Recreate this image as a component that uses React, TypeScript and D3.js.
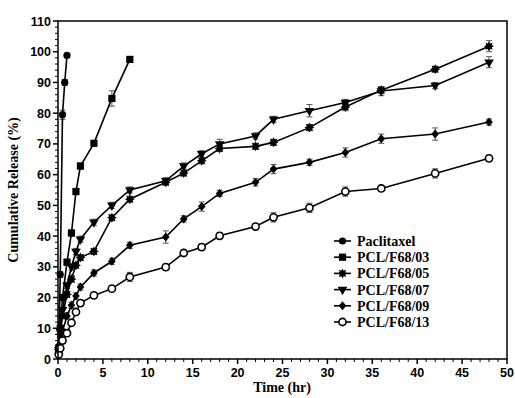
import React from "react";
import * as d3 from "d3";

const xTicks = [0, 5, 10, 15, 20, 25, 30, 35, 40, 45, 50];
const yTicks = [0, 10, 20, 30, 40, 50, 60, 70, 80, 90, 100, 110];

const timeLong = [0.083, 0.25, 0.5, 1, 1.5, 2, 2.5, 4, 6, 8, 12, 14, 16, 18, 22, 24, 28, 32, 36, 42, 48];
const timePac = [0.083, 0.25, 0.5, 0.75, 1];
const timeF03 = [0.083, 0.25, 0.5, 1, 1.5, 2, 2.5, 4, 6, 8];

const pacValues = [4, 27.5, 79.5, 90, 98.8];
const pacErr = [0.5, 1, 1.5, 1, 0.5];
const f03Values = [3.5, 10, 20, 31.5, 41, 54.5, 62.8, 70.2, 84.8, 97.5];
const f03Err = [0.5, 0.8, 1, 1, 1, 1, 1, 0.8, 2.5, 0.5];
const f05Values = [3, 8, 14, 21, 26, 30.5, 33, 35, 46, 52, 57.5, 60.5, 64.5, 68.5, 69.2, 70.5, 75.3, 82, 87.5, 94.3, 101.8];
const f05Err = [0.5, 0.5, 0.8, 1, 1, 1, 1, 1, 1, 1, 1, 1, 1, 1, 1, 1, 1, 1.2, 1, 1, 1.8];
const f07Values = [3, 9, 16, 24, 30, 35, 39, 44.5, 50, 55, 58, 62.8, 66.8, 70, 72.6, 78, 80.8, 83.5, 87.2, 89, 96.6];
const f07Err = [0.5, 0.5, 0.8, 1, 1, 1, 1, 1, 1, 1, 1, 1, 1, 1.5, 1, 1, 2, 1, 1.5, 1, 1.8];
const f09Values = [2, 5, 9, 14, 17.5, 20.5, 23.4, 28, 31.8, 37, 39.7, 45.6, 49.6, 53.9, 57.5, 61.8, 64, 67.2, 71.7, 73.2, 77.1];
const f09Err = [0.5, 0.5, 0.8, 1, 1, 1, 1, 1, 1, 1, 2, 1, 1.5, 1, 1.2, 1.5, 1, 1.5, 1.5, 2, 1];
const f13Values = [1.5, 3.5, 6, 8.4, 11.8, 15.3, 18.2, 20.7, 22.9, 26.7, 29.9, 34.5, 36.4, 40.1, 43.1, 46.1, 49.2, 54.5, 55.5, 60.4, 65.3];
const f13Err = [0.5, 0.5, 0.8, 1, 1, 1, 1, 1, 1, 1.5, 1, 1, 1, 1, 1, 1.5, 1.5, 1.5, 1, 1.5, 1];

const seriesNames = ["Paclitaxel", "PCL/F68/03", "PCL/F68/05", "PCL/F68/07", "PCL/F68/09", "PCL/F68/13"];
const seriesTimes = [timePac, timeF03, timeLong, timeLong, timeLong, timeLong];
const seriesValues = [pacValues, f03Values, f05Values, f07Values, f09Values, f13Values];
const seriesErrors = [pacErr, f03Err, f05Err, f07Err, f09Err, f13Err];
const markerKinds = ["circle", "square", "star", "triangle", "diamond", "open"];

const left = 58, right = 507, top = 21, bottom = 359;

function Marker({ kind, x, y }: { kind: string; x: number; y: number }) {
  if (kind === "circle") return <circle cx={x} cy={y} r={3.6} fill="#000" />;
  if (kind === "square") return <rect x={x - 3.6} y={y - 3.6} width={7.2} height={7.2} fill="#000" />;
  if (kind === "triangle") {
    const p = d3.symbol(d3.symbolTriangle, 40)() as string;
    return <path d={p} transform={`translate(${x},${y}) rotate(180)`} fill="#000" />;
  }
  if (kind === "diamond") {
    return <path d={`M${x},${y - 4.5}L${x + 3.8},${y}L${x},${y + 4.5}L${x - 3.8},${y}Z`} fill="#000" />;
  }
  if (kind === "star") {
    const pts: string[] = [];
    for (let i = 0; i < 16; i++) {
      const r = i % 2 === 0 ? 5 : 3;
      const a = (Math.PI * 2 * i) / 16;
      pts.push(`${x + r * Math.sin(a)},${y - r * Math.cos(a)}`);
    }
    return <polygon points={pts.join(" ")} fill="#000" />;
  }
  return <circle cx={x} cy={y} r={3.6} fill="#fff" stroke="#000" strokeWidth={1.6} />;
}

export default function App() {
  const x = d3.scaleLinear().domain([0, 50]).range([left, right]);
  const y = d3.scaleLinear().domain([0, 110]).range([bottom, top]);
  const line = d3.line<[number, number]>().x((d) => x(d[0])).y((d) => y(d[1]));
  const xMinor = d3.range(0, 51, 1).filter((v) => v % 5 !== 0);
  const yMinor = d3.range(0, 111, 2).filter((v) => v % 10 !== 0);
  const sans = "'Liberation Sans', Arial, sans-serif";
  const serif = "'Liberation Serif', 'Times New Roman', serif";

  return (
    <svg width={515} height={398} style={{ position: "absolute", left: 0, top: 0 }}>
      <rect x={0} y={0} width={515} height={398} fill="#fff" />
      {seriesNames.map((n, si) =>
        seriesTimes[si].map((t, i) => {
          const v = seriesValues[si][i];
          const e = seriesErrors[si][i];
          const cx = x(t);
          return (
            <g key={`e${si}-${i}`} stroke="#555" strokeWidth={1}>
              <line x1={cx} x2={cx} y1={y(v - e)} y2={y(v + e)} />
              <line x1={cx - 3} x2={cx + 3} y1={y(v + e)} y2={y(v + e)} />
              <line x1={cx - 3} x2={cx + 3} y1={y(v - e)} y2={y(v - e)} />
            </g>
          );
        })
      )}
      {seriesNames.map((n, si) => (
        <path
          key={`l${si}`}
          d={line(seriesTimes[si].map((t, i) => [t, seriesValues[si][i]] as [number, number])) as string}
          fill="none"
          stroke="#000"
          strokeWidth={1.6}
        />
      ))}
      {seriesNames.map((n, si) =>
        seriesTimes[si].map((t, i) => (
          <Marker key={`m${si}-${i}`} kind={markerKinds[si]} x={x(t)} y={y(seriesValues[si][i])} />
        ))
      )}
      <rect x={left} y={top} width={right - left} height={bottom - top} fill="none" stroke="#000" strokeWidth={1.5} />
      {xTicks.map((t) => (
        <g key={`xt${t}`}>
          <line x1={x(t)} x2={x(t)} y1={bottom} y2={bottom + 5} stroke="#000" strokeWidth={1.5} />
          <text x={x(t)} y={bottom + 18} textAnchor="middle" fontFamily={sans} fontWeight="bold" fontSize={12.5}>
            {t}
          </text>
        </g>
      ))}
      {xMinor.map((t) => (
        <line key={`xm${t}`} x1={x(t)} x2={x(t)} y1={bottom} y2={bottom + 3} stroke="#000" strokeWidth={1} />
      ))}
      {yTicks.map((t) => (
        <g key={`yt${t}`}>
          <line x1={left - 5} x2={left} y1={y(t)} y2={y(t)} stroke="#000" strokeWidth={1.5} />
          <text x={left - 7} y={y(t) + 4.5} textAnchor="end" fontFamily={sans} fontWeight="bold" fontSize={12.5}>
            {t}
          </text>
        </g>
      ))}
      {yMinor.map((t) => (
        <line key={`ym${t}`} x1={left - 3} x2={left} y1={y(t)} y2={y(t)} stroke="#000" strokeWidth={1} />
      ))}
      <text x={282} y={392} textAnchor="middle" fontFamily={serif} fontWeight="bold" fontSize={14}>
        Time (hr)
      </text>
      <text
        transform={`translate(18,${(top + bottom) / 2}) rotate(-90)`}
        textAnchor="middle"
        fontFamily={serif}
        fontWeight="bold"
        fontSize={14}
      >
        Cumulative Release (%)
      </text>
      {seriesNames.map((n, si) => {
        const ly = 241 + si * 16.2;
        return (
          <g key={`lg${si}`}>
            <line x1={334} x2={351} y1={ly} y2={ly} stroke="#000" strokeWidth={1.6} />
            <Marker kind={markerKinds[si]} x={342.5} y={ly} />
            <text x={357} y={ly + 5} fontFamily={serif} fontWeight="bold" fontSize={14}>
              {n}
            </text>
          </g>
        );
      })}
    </svg>
  );
}
